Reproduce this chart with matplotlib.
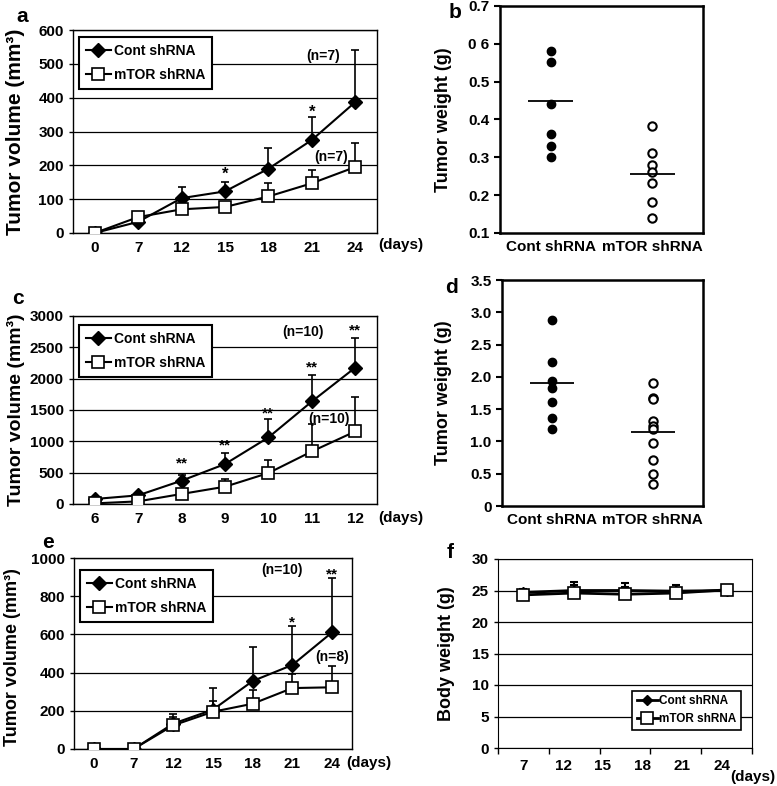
import numpy as np
import matplotlib
matplotlib.use('Agg')
import matplotlib.pyplot as plt

plt.rcParams['font.family'] = ['Liberation Sans', 'DejaVu Sans']
plt.rcParams['font.weight'] = 'bold'
plt.rcParams['axes.labelweight'] = 'bold'

W, H = 777, 786

# ---- panel a: tumor volume (days 0-24)
days_a = ['0', '7', '12', '15', '18', '21', '24']
cont_a = [0, 33, 103, 123, 190, 275, 387]
cont_a_up = [0, 40, 135, 152, 250, 343, 540]
mtor_a = [0, 47, 70, 77, 108, 147, 195]
mtor_a_up = [0, 50, 72, 80, 148, 187, 265]

# ---- panel b: tumor weight
b_cont = [0.582, 0.551, 0.441, 0.362, 0.331, 0.301]
b_mtor = [0.382, 0.311, 0.281, 0.262, 0.231, 0.181, 0.140]
b_means = [0.449, 0.255]

# ---- panel c: tumor volume (days 6-12)
days_c = ['6', '7', '8', '9', '10', '11', '12']
cont_c = [80, 138, 372, 637, 1062, 1636, 2177]
cont_c_up = [110, 160, 467, 807, 1360, 2060, 2655]
mtor_c = [10, 42, 160, 276, 494, 839, 1158]
mtor_c_up = [10, 45, 170, 404, 706, 1275, 1700]

# ---- panel d: tumor weight
d_cont = [2.88, 2.23, 1.94, 1.82, 1.61, 1.36, 1.19]
d_mtor = [1.91, 1.67, 1.66, 1.32, 1.24, 1.19, 0.98, 0.72, 0.49, 0.34]
d_means = [1.91, 1.15]

# ---- panel e: tumor volume (days 0-24)
days_e = ['0', '7', '12', '15', '18', '21', '24']
cont_e = [0, 0, 133, 206, 356, 440, 611]
cont_e_up = [0, 0, 181, 319, 532, 642, 894]
mtor_e = [0, 0, 124, 195, 237, 319, 323]
mtor_e_up = [0, 0, 165, 250, 311, 394, 436]

# ---- panel f: body weight
f_labels = ['7', '12', '15', '18', '21', '24']
cont_f = [24.7, 25.0, 25.0, 24.9, 25.0]
cont_f_up = [25.2, 26.3, 26.2, 25.9, 25.9]
mtor_f = [24.3, 24.6, 24.4, 24.6, 25.1]
mtor_f_up = [24.5, 25.8, 25.6, 25.4, 25.6]

fig = plt.figure(figsize=(W / 100, H / 100), dpi=100)


def ax_px(l, t, r, b):
    return fig.add_axes([l / W, 1 - b / H, (r - l) / W, (b - t) / H])


def ftext(x, y, s, **kw):
    fig.text(x / W, 1 - y / H, s, **kw)


def growth(ax, labels, cont, cont_up, mtor, mtor_up, ymax, step, leg_pos):
    x = np.arange(len(labels))
    cont = np.array(cont)
    mtor = np.array(mtor)
    ax.errorbar(x, cont, yerr=[np.zeros(len(x)), np.array(cont_up) - cont],
                fmt='none', ecolor='black', elinewidth=1.2, capsize=3, capthick=1.2, zorder=2)
    ax.errorbar(x, mtor, yerr=[np.zeros(len(x)), np.array(mtor_up) - mtor],
                fmt='none', ecolor='black', elinewidth=1.2, capsize=3, capthick=1.2, zorder=2)
    ax.plot(x, cont, color='black', lw=1.5, marker='D', ms=7, mfc='black',
            label='Cont shRNA', zorder=3)
    ax.plot(x, mtor, color='black', lw=1.5, marker='s', ms=9, mfc='white',
            mec='black', mew=1.2, label='mTOR shRNA', zorder=4)
    ax.set_xlim(-0.5, len(labels) - 0.5)
    ax.set_ylim(0, ymax)
    ax.set_xticks(x)
    ax.set_xticklabels(labels, fontsize=11, fontweight='bold')
    ax.tick_params(axis='x', length=0, pad=6)
    ax.set_yticks(np.arange(0, ymax + 1, step))
    ax.tick_params(axis='y', labelsize=11, length=3, width=1)
    ax.yaxis.grid(True, color='black', lw=0.9)
    ax.set_axisbelow(True)
    for s in ax.spines.values():
        s.set_linewidth(1.0)
    leg = ax.legend(loc='upper left', bbox_to_anchor=leg_pos, borderaxespad=0,
                    fancybox=False, edgecolor='black', framealpha=1,
                    prop={'size': 10, 'weight': 'bold'}, handlelength=1.8,
                    handletextpad=0.2, borderpad=0.5, labelspacing=0.7)
    leg.get_frame().set_linewidth(1.5)


def scatter_panel(ax, cont, mtor, means, ylim, ticks, ticklabels):
    ax.plot(np.ones(len(cont)), cont, 'o', ms=6, mfc='black', mec='black', zorder=3)
    ax.plot(np.full(len(mtor), 2.0), mtor, 'o', ms=6, mfc='white', mec='black',
            mew=1.5, zorder=3)
    for i, m in enumerate(means):
        ax.hlines(m, i + 1 - 0.22, i + 1 + 0.22, color='black', lw=1.3, zorder=4)
    ax.set_xlim(0.5, 2.5)
    ax.set_ylim(*ylim)
    ax.set_xticks([1, 2])
    ax.set_xticklabels(['Cont shRNA', 'mTOR shRNA'], fontsize=11, fontweight='bold')
    ax.tick_params(axis='x', length=0, pad=5)
    ax.set_yticks(ticks)
    ax.set_yticklabels(ticklabels)
    ax.tick_params(axis='y', labelsize=11, length=4, width=1.5)
    for s in ax.spines.values():
        s.set_linewidth(1.8)


# a
ax_a = ax_px(73, 30, 377, 233)
growth(ax_a, days_a, cont_a, cont_a_up, mtor_a, mtor_a_up, 600, 100, (6 / 304, 1 - 7 / 203))
ax_a.set_ylabel('Tumor volume (mm³)', fontsize=15)
ax_a.yaxis.set_label_coords(-0.158, 0.5)
ax_a.text(3, 175, '*', ha='center', va='center', fontsize=12)
ax_a.text(5, 358, '*', ha='center', va='center', fontsize=12)
ax_a.text(5.25, 522, '(n=7)', ha='center', va='center', fontsize=10)
ax_a.text(5.45, 225, '(n=7)', ha='center', va='center', fontsize=10)

# b
ax_b = ax_px(500, 6, 703, 233)
scatter_panel(ax_b, b_cont, b_mtor, b_means, (0.1, 0.7),
              [0.1, 0.2, 0.3, 0.4, 0.5, 0.6, 0.7],
              ['0.1', '0.2', '0.3', '0.4', '0.5', '0 6', '0.7'])
ax_b.set_ylabel('Tumor weight (g)', fontsize=13)
ax_b.yaxis.set_label_coords(-0.236, 0.5)

# c
ax_c = ax_px(73, 316, 377, 504)
growth(ax_c, days_c, cont_c, cont_c_up, mtor_c, mtor_c_up, 3000, 500, (6 / 304, 1 - 9 / 188))
ax_c.set_ylabel('Tumor volume (mm³)', fontsize=14)
ax_c.yaxis.set_label_coords(-0.158, 0.5)
for xi, yi in [(2, 640), (3, 930), (4, 1440), (5, 2180), (6, 2770)]:
    ax_c.text(xi, yi, '**', ha='center', va='center', fontsize=11)
ax_c.text(4.8, 2740, '(n=10)', ha='center', va='center', fontsize=10)
ax_c.text(5.4, 1360, '(n=10)', ha='center', va='center', fontsize=10)

# d
ax_d = ax_px(502, 280, 703, 506)
scatter_panel(ax_d, d_cont, d_mtor, d_means, (0, 3.5),
              [0, 0.5, 1.0, 1.5, 2.0, 2.5, 3.0, 3.5],
              ['0', '0.5', '1.0', '1.5', '2.0', '2.5', '3.0', '3.5'])
ax_d.set_ylabel('Tumor weight (g)', fontsize=13)
ax_d.yaxis.set_label_coords(-0.249, 0.5)

# e
ax_e = ax_px(74, 558, 352, 749)
growth(ax_e, days_e, cont_e, cont_e_up, mtor_e, mtor_e_up, 1000, 200, (6 / 278, 1 - 12 / 191))
ax_e.set_ylabel('Tumor volume (mm³)', fontsize=13)
ax_e.yaxis.set_label_coords(-0.19, 0.48)
ax_e.text(5, 665, '*', ha='center', va='center', fontsize=11)
ax_e.text(6, 915, '**', ha='center', va='center', fontsize=11)
ax_e.text(4.75, 939, '(n=10)', ha='center', va='center', fontsize=10)
ax_e.text(6.0, 482, '(n=8)', ha='center', va='center', fontsize=10)

# f
ax_f = ax_px(498, 559, 752, 748)
xf = np.arange(len(cont_f))
cont_f_arr = np.array(cont_f)
mtor_f_arr = np.array(mtor_f)
ax_f.errorbar(xf, cont_f_arr, yerr=[np.zeros(len(xf)), np.array(cont_f_up) - cont_f_arr],
              fmt='none', ecolor='black', elinewidth=1.5, capsize=3, capthick=1.5, zorder=2)
ax_f.errorbar(xf, mtor_f_arr, yerr=[np.zeros(len(xf)), np.array(mtor_f_up) - mtor_f_arr],
              fmt='none', ecolor='black', elinewidth=1.5, capsize=3, capthick=1.5, zorder=2)
ax_f.plot(xf, cont_f_arr, color='black', lw=2, marker='D', ms=5, label='Cont shRNA', zorder=3)
ax_f.plot(xf, mtor_f_arr, color='black', lw=2, marker='s', ms=8, mfc='white', mec='black',
          mew=1.2, label='mTOR shRNA', zorder=4)
ax_f.set_xlim(-0.5, len(cont_f) - 0.5)
ax_f.set_ylim(0, 30)
ax_f.set_yticks(np.arange(0, 31, 5))
ax_f.tick_params(axis='y', labelsize=11, length=3, width=1)
ax_f.set_xticks(np.arange(-0.5, len(cont_f), 1.0))
ax_f.set_xticklabels([])
ax_f.tick_params(axis='x', which='major', length=4, width=1)
ax_f.set_xticks(np.linspace(0, 3.9, len(f_labels)), minor=True)
ax_f.set_xticklabels(f_labels, minor=True, fontsize=11, fontweight='bold')
ax_f.tick_params(axis='x', which='minor', length=0, pad=8)
ax_f.yaxis.grid(True, color='black', lw=0.9)
ax_f.set_axisbelow(True)
ax_f.set_ylabel('Body weight (g)', fontsize=13)
ax_f.yaxis.set_label_coords(-0.169, 0.5)
leg_f = ax_f.legend(loc='lower right', bbox_to_anchor=(1 - 11 / 254, 18 / 189), borderaxespad=0,
                    fancybox=False, edgecolor='black', framealpha=1,
                    prop={'size': 8.5, 'weight': 'bold'}, handlelength=1.8,
                    handletextpad=0.1, borderpad=0.4, labelspacing=0.5)
leg_f.get_frame().set_linewidth(1.2)

# panel letters and (days)
for x, y, s in [(22, 17, 'a'), (455, 13, 'b'), (18, 298, 'c'), (452, 288, 'd'),
                (48, 543, 'e'), (450, 553, 'f')]:
    ftext(x, y, s, fontsize=15, ha='center', va='center')
for x, y in [(401, 245), (401, 518), (369, 763)]:
    ftext(x, y, '(days)', fontsize=11, ha='center', va='center')
ftext(775, 777, '(days)', fontsize=11, ha='right', va='center')

fig.savefig('out.png', dpi=100)
